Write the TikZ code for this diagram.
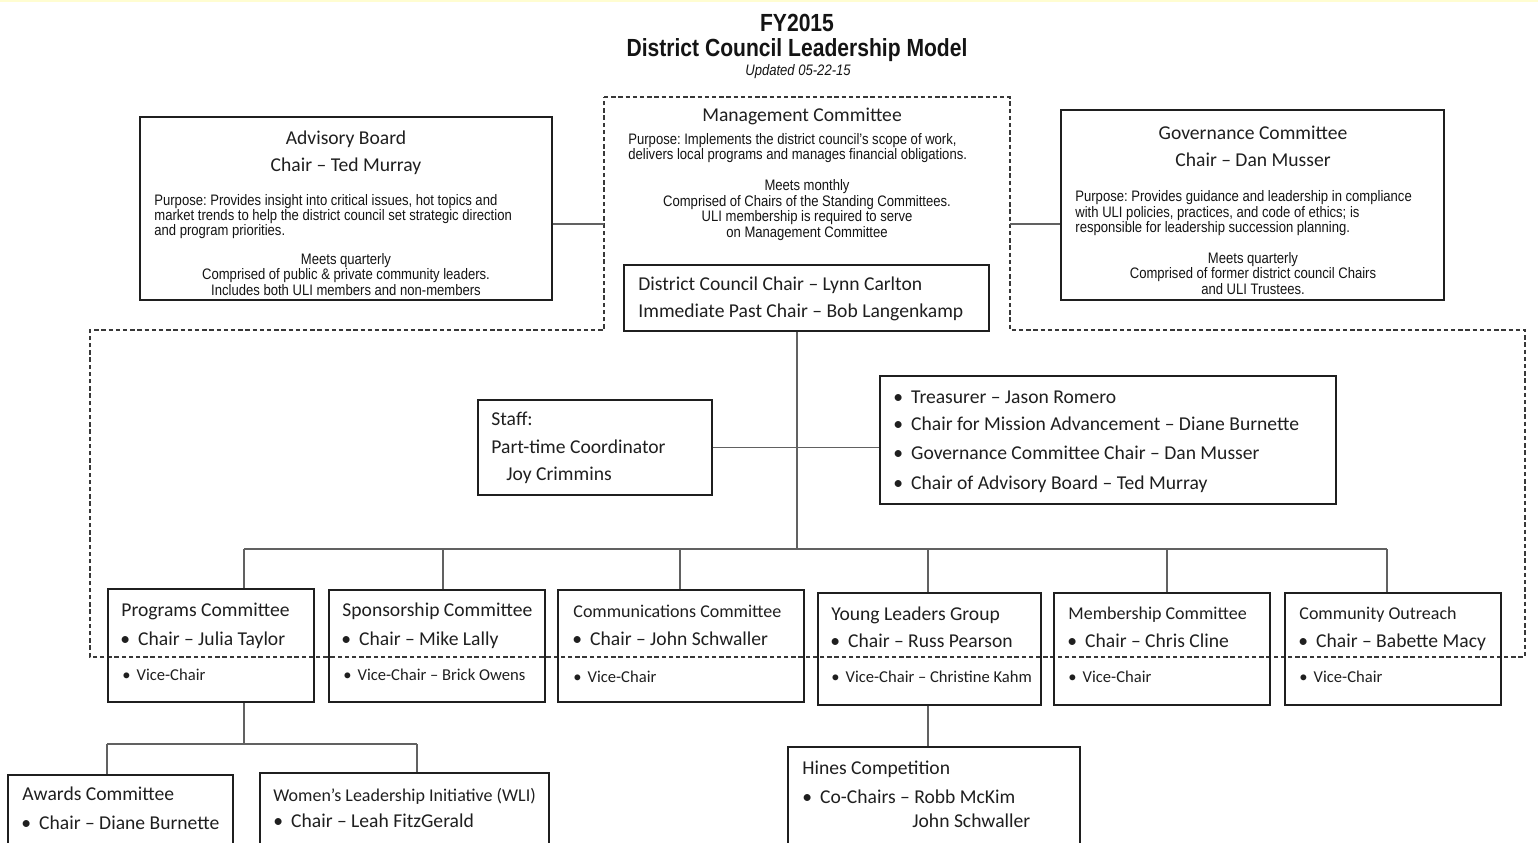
\documentclass[tikz,border=0pt]{standalone}
\usepackage{fontspec}
\setmainfont{Carlito}
\newfontfamily\smallf[FakeStretch=0.86]{Liberation Sans}
\newfontfamily\titlef[FakeStretch=0.85]{Liberation Sans}
\frenchspacing
\newcommand\pxbox[5]{\node[bx, minimum width={0.5pt*(#4-#2)}, minimum height={0.5pt*(#5-#3)}] (#1) at ({(#2+#4)/2},{(#3+#5)/2}) {};}
\tikzset{
  bx/.style={draw=black!88, line width=0.8pt, inner sep=0pt, rectangle},
  cn/.style={draw=black!62, line width=0.9pt},
  dsh/.style={draw=black!78, line width=0.7pt, dash pattern=on 2.2pt off 1.4pt},
  hd/.style={inner sep=0pt, yshift=-1.2pt, text=black!88, font=\fontsize{9.8}{12}\selectfont},
  hs/.style={inner sep=0pt, yshift=-1.2pt, text=black!88, font=\fontsize{9}{11}\selectfont},
  vc/.style={inner sep=0pt, yshift=-1.1pt, text=black!88, font=\fontsize{8.3}{10}\selectfont},
  sm/.style={inner sep=0pt, yshift=-0.8pt, text height=0.73em, text depth=0.21em, text=black!92, font=\smallf\fontsize{7.6}{9}\selectfont},
  tt/.style={inner sep=0pt, yshift=-0.6pt, text=black!92, font=\titlef\bfseries\fontsize{12.4}{14}\selectfont},
}
\newcommand\bul{\textbullet\hspace{4pt}}
\newcommand\vbul{\textbullet\hspace{3pt}}
\begin{document}
\begin{tikzpicture}[x=0.5pt,y=-0.5pt]
\useasboundingbox (0,0) rectangle (1538,842);
\clip (0,0) rectangle (1538,842);
\fill[white] (0,0) rectangle (1538,842);
\fill[yellow!18] (0,0) rectangle (1538,2);

% ---------- title
\node[tt] (ti1) at (797,22) {FY2015};
\node[tt] (ti2) at (797,49) {District Council Leadership Model};
\node[inner sep=0pt, yshift=-0.6pt, text=black!92, font=\smallf\itshape\fontsize{7.6}{9}\selectfont] (ti3) at (798,70) {Updated 05-22-15};

% ---------- dashed management region
\coordinate (d1) at (604,97);
\coordinate (d2) at (1010,97);
\coordinate (d3) at (1010,330);
\coordinate (d4) at (1525,330);
\coordinate (d5) at (1525,657);
\coordinate (d6) at (90,657);
\coordinate (d7) at (90,330);
\coordinate (d8) at (604,330);
\draw[dsh] (d1) -- (d2) -- (d3) -- (d4) -- (d5) -- (d6) -- (d7) -- (d8) -- cycle;
\coordinate (mgL) at (604,224);
\coordinate (mgR) at (1010,224);

% ---------- advisory board
\pxbox{adv}{140}{117}{552}{300}
\node[hd] (ab1) at (346,137) {Advisory Board};
\node[hd] (ab2) at (346,164) {Chair -- Ted Murray};
\node[sm, anchor=mid west] (ab3) at (154,199) {Purpose: Provides insight into critical issues, hot topics and};
\node[sm, anchor=mid west] (ab4) at (154,214) {market trends to help the district council set strategic direction};
\node[sm, anchor=mid west] (ab5) at (154,229) {and program priorities.};
\node[sm] (ab6) at (346,258) {Meets quarterly};
\node[sm] (ab7) at (346,273) {Comprised of public \& private community leaders.};
\node[sm] (ab8) at (346,289) {Includes both ULI members and non-members};

% ---------- management committee text
\node[hd] (mc1) at (802,114) {Management Committee};
\node[sm, anchor=mid west] (mc2) at (628,138) {Purpose: Implements the district council’s scope of work,};
\node[sm, anchor=mid west] (mc3) at (628,153) {delivers local programs and manages financial obligations.};
\node[sm] (mc4) at (807,184) {Meets monthly};
\node[sm] (mc5) at (807,200) {Comprised of Chairs of the Standing Committees.};
\node[sm] (mc6) at (807,215) {ULI membership is required to serve};
\node[sm] (mc7) at (807,231) {on Management Committee};

\pxbox{dcc}{624}{265}{989}{331}
\node[hd, anchor=mid west] (dc1) at (638,283) {District Council Chair -- Lynn Carlton};
\node[hd, anchor=mid west] (dc2) at (638,310) {Immediate Past Chair -- Bob Langenkamp};

% ---------- governance committee
\pxbox{gov}{1061}{110}{1444}{300}
\node[hd] (gc1) at (1253,130) {Governance Committee};
\node[hd] (gc2) at (1253,157) {Chair -- Dan Musser};
\node[sm, anchor=mid west] (gc3) at (1075,195) {Purpose: Provides guidance and leadership in compliance};
\node[sm, anchor=mid west] (gc4) at (1075,211) {with ULI policies, practices, and code of ethics; is};
\node[sm, anchor=mid west] (gc5) at (1075,226) {responsible for leadership succession planning.};
\node[sm] (gc6) at (1253,257) {Meets quarterly};
\node[sm] (gc7) at (1253,272) {Comprised of former district council Chairs};
\node[sm] (gc8) at (1253,288) {and ULI Trustees.};

\draw[cn] (adv.east |- mgL) -- (mgL);
\draw[cn] (mgR) -- (mgR -| gov.west);

% ---------- staff and officers
\pxbox{staff}{478}{400}{712}{495}
\node[hd, anchor=mid west] (st1) at (491,418) {Staff:};
\node[hd, anchor=mid west] (st2) at (491,446) {Part-time Coordinator};
\node[hd, anchor=mid west] (st3) at (506,473) {Joy Crimmins};

\pxbox{treas}{880}{376}{1336}{504}
\node[hd, anchor=mid west] (tr1) at (893,396) {\bul Treasurer -- Jason Romero};
\node[hd, anchor=mid west] (tr2) at (893,423) {\bul Chair for Mission Advancement -- Diane Burnette};
\node[hd, anchor=mid west] (tr3) at (893,452) {\bul Governance Committee Chair -- Dan Musser};
\node[hd, anchor=mid west] (tr4) at (893,482) {\bul Chair of Advisory Board -- Ted Murray};

% ---------- committees
\pxbox{prog}{108}{589}{314}{702}
\node[hd, anchor=mid west] (pg1) at (121,609) {Programs Committee};
\node[hd, anchor=mid west] (pg2) at (120,638) {\bul Chair -- Julia Taylor};
\node[vc, anchor=mid west] (pg3) at (122,674) {\vbul Vice-Chair};

\pxbox{spon}{329}{590}{545}{702}
\node[hd, anchor=mid west] (sp1) at (342,609) {Sponsorship Committee};
\node[hd, anchor=mid west] (sp2) at (341,638) {\bul Chair -- Mike Lally};
\node[vc, anchor=mid west] (sp3) at (343,674) {\vbul Vice-Chair -- Brick Owens};

\pxbox{comm}{558}{590}{804}{702}
\node[hs, anchor=mid west] (cm1) at (573,610) {Communications Committee};
\node[hd, anchor=mid west] (cm2) at (572,638) {\bul Chair -- John Schwaller};
\node[vc, anchor=mid west] (cm3) at (573,676) {\vbul Vice-Chair};

\pxbox{ylg}{818}{593}{1041}{705}
\node[hd, anchor=mid west] (yl1) at (831,613) {Young Leaders Group};
\node[hd, anchor=mid west] (yl2) at (830,640) {\bul Chair -- Russ Pearson};
\node[vc, anchor=mid west] (yl3) at (831,676) {\vbul Vice-Chair -- Christine Kahm};

\pxbox{memb}{1054}{593}{1270}{705}
\node[hs, anchor=mid west] (mb1) at (1068,612) {Membership Committee};
\node[hd, anchor=mid west] (mb2) at (1067,640) {\bul Chair -- Chris Cline};
\node[vc, anchor=mid west] (mb3) at (1068,676) {\vbul Vice-Chair};

\pxbox{outr}{1285}{593}{1501}{705}
\node[hs, anchor=mid west] (co1) at (1299,612) {Community Outreach};
\node[hd, anchor=mid west] (co2) at (1298,640) {\bul Chair -- Babette Macy};
\node[vc, anchor=mid west] (co3) at (1299,676) {\vbul Vice-Chair};

% ---------- sub committees
\pxbox{awd}{8}{775}{233}{870}
\node[hd, anchor=mid west] (aw1) at (22,793) {Awards Committee};
\node[hd, anchor=mid west] (aw2) at (21,822) {\bul Chair -- Diane Burnette};

\pxbox{wli}{260}{773}{549}{870}
\node[hs, anchor=mid west] (wl1) at (273,794) {Women’s Leadership Initiative (WLI)};
\node[hd, anchor=mid west] (wl2) at (273,820) {\bul Chair -- Leah FitzGerald};

\pxbox{hines}{788}{747}{1080}{870}
\node[hd, anchor=mid west] (hn1) at (802,767) {Hines Competition};
\node[hd, anchor=mid west] (hn2) at (802,796) {\bul Co-Chairs -- Robb McKim};
\node[hd, anchor=mid west] (hn3) at (912,820) {John Schwaller};

% ---------- connectors
\coordinate (trk) at (797,549);
\coordinate (bL) at (244,549);
\coordinate (bR) at (1387,549);
\coordinate (c2) at (443,549);
\coordinate (c3) at (680,549);
\coordinate (c4) at (928,549);
\coordinate (c5) at (1167,549);
\draw[cn] (trk |- dcc.south) -- (trk);
\draw[cn] (staff.east) -- (staff.east -| treas.west);
\draw[cn] (bL) -- (bR);
\draw[cn] (bL) -- (bL |- prog.north);
\draw[cn] (c2) -- (c2 |- spon.north);
\draw[cn] (c3) -- (c3 |- comm.north);
\draw[cn] (c4) -- (c4 |- ylg.north);
\draw[cn] (c5) -- (c5 |- memb.north);
\draw[cn] (bR) -- (bR |- outr.north);
\coordinate (sb) at (244,744);
\coordinate (sa) at (107,744);
\coordinate (sw) at (417,744);
\draw[cn] (sb |- prog.south) -- (sb);
\draw[cn] (sa) -- (sw);
\draw[cn] (sa) -- (sa |- awd.north);
\draw[cn] (sw) -- (sw |- wli.north);
\draw[cn] (c4 |- ylg.south) -- (c4 |- hines.north);
\end{tikzpicture}
\end{document}
